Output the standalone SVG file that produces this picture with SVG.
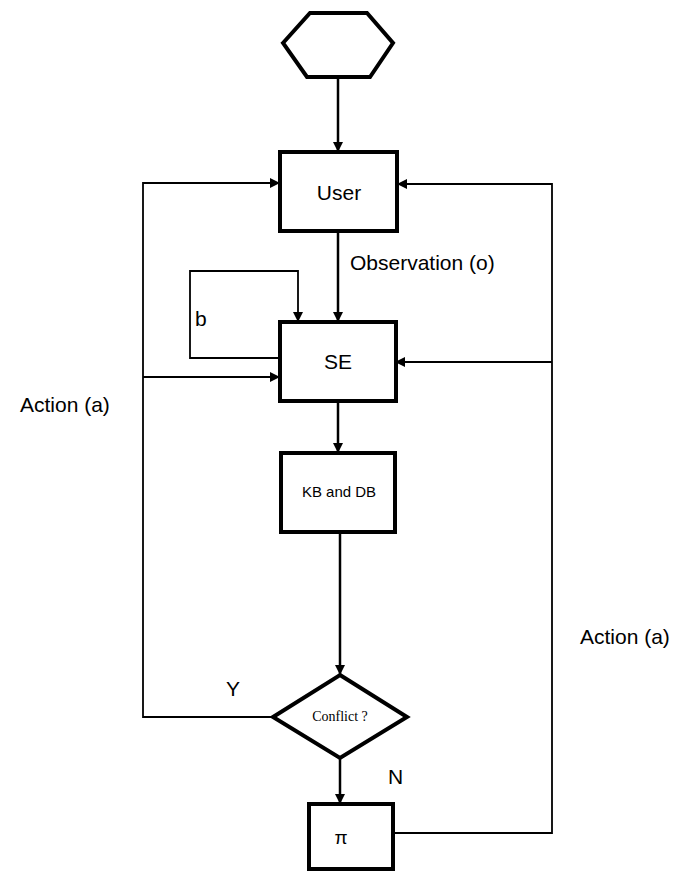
<svg xmlns="http://www.w3.org/2000/svg" width="678" height="875" viewBox="0 0 678 875">
<style>
.box{fill:#fff;stroke:#000;stroke-width:4}
.ln{fill:none;stroke:#000;stroke-width:1.8}
.thk{fill:none;stroke:#000;stroke-width:2.5}
.t{font-family:"Liberation Sans",Arial,sans-serif;fill:#000}
.s{font-family:"Liberation Serif","Times New Roman",serif;fill:#000}
</style>
<defs>
<marker id="ah" markerWidth="10" markerHeight="10" refX="9" refY="5" orient="auto" markerUnits="userSpaceOnUse">
<path d="M0,0 L10,5 L0,10 Z" fill="#000"/>
</marker>
</defs>
<rect width="678" height="875" fill="#fff"/>
<g id="connectors">
<path class="thk" d="M338,77 V151" marker-end="url(#ah)"/>
<path class="thk" d="M338,231 V321" marker-end="url(#ah)"/>
<path class="thk" d="M338,401 V452" marker-end="url(#ah)"/>
<path class="thk" d="M340,532 V674" marker-end="url(#ah)"/>
<path class="thk" d="M340,758 V803" marker-end="url(#ah)"/>
<path class="ln" d="M273,717 H143 V183 H279" marker-end="url(#ah)"/>
<path class="ln" d="M143,377 H279" marker-end="url(#ah)"/>
<path class="ln" d="M393,833 H552 V184 H398" marker-end="url(#ah)"/>
<path class="ln" d="M552,362 H396" marker-end="url(#ah)"/>
<path class="ln" d="M280,358 H190 V271 H298 V321" marker-end="url(#ah)"/>
</g>
<g id="start"><polygon class="box" points="283,43 310,13 367,13 393,43 370,77 307,77"/></g>
<g id="user"><rect class="box" x="280" y="152" width="117" height="79"/><text class="t" x="339" y="200" font-size="21" text-anchor="middle">User</text></g>
<g id="se"><rect class="box" x="280" y="322" width="116" height="79"/><text class="t" x="338" y="369" font-size="21" text-anchor="middle">SE</text></g>
<g id="kb"><rect class="box" x="281" y="453" width="114" height="79"/><text class="t" x="339" y="497" font-size="15" text-anchor="middle">KB and DB</text></g>
<g id="conflict"><polygon class="box" points="340,675 407,717 340,758 273,717"/><text class="s" x="340" y="721" font-size="14" text-anchor="middle">Conflict ?</text></g>
<g id="pi"><rect class="box" x="309" y="804" width="84" height="65"/><text class="t" x="341" y="844" font-size="19" text-anchor="middle">π</text></g>
<g id="labels">
<text class="t" x="350" y="270" font-size="21">Observation (o)</text>
<text class="t" x="195" y="326" font-size="21">b</text>
<text class="t" x="20" y="412" font-size="21">Action (a)</text>
<text class="t" x="580" y="644" font-size="21">Action (a)</text>
<text class="t" x="226" y="696" font-size="21">Y</text>
<text class="t" x="388" y="784" font-size="21">N</text>
</g>
</svg>
